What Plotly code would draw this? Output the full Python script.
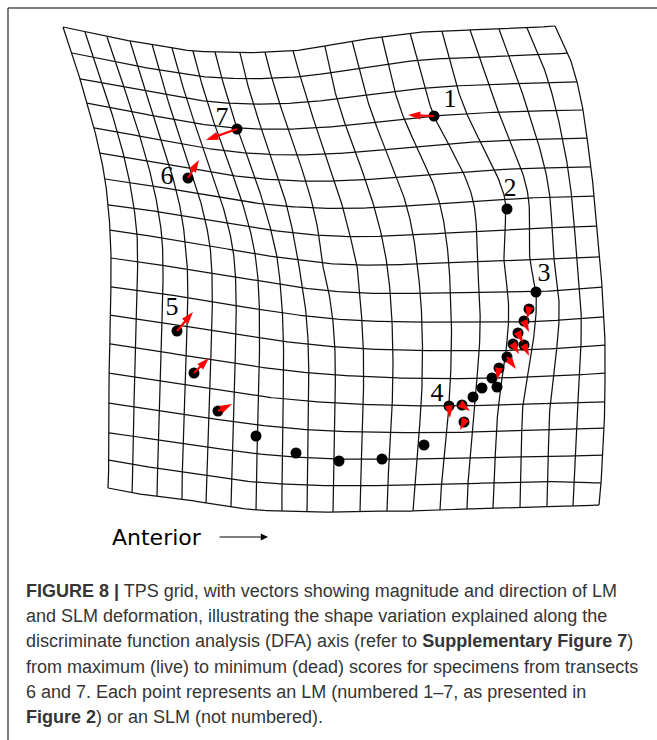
import numpy as np
import plotly.graph_objects as go

# ---------------------------------------------------------------
# Deformation grid: 20 columns x 18 rows, warped by a thin-plate
# spline through control nodes (column, row) -> (x, y)
# ---------------------------------------------------------------
N_COLS = 20
N_ROWS = 18

top_x = [63, 85, 107, 130, 152, 172, 193, 215, 240, 265, 293, 325, 352, 382, 410, 442, 470, 499, 527, 555]
top_y = [27, 32, 37, 41, 44, 48, 51, 52, 53, 52, 51, 46, 41, 37, 33, 31, 30, 29, 28, 26]

bottom_x = [108, 132, 157, 182, 206, 231, 256, 282, 307, 333, 360, 387, 413, 440, 467, 493, 520, 547, 573, 599]
bottom_y = [488, 493, 496, 499, 503, 507, 510, 511, 512, 512, 512, 511, 511, 510, 509, 508, 507, 506, 506, 505]

mid_x = [110, 137, 162, 185, 210, 233, 255, 277, 298, 322, 357, 387, 417, 449, 477, 504, 530, 554, 577, 600]
mid_y = [230, 234, 238, 242, 246, 250, 254, 257, 260, 263, 265, 265, 264, 263, 262, 261, 260, 259, 258, 257]
MID_ROW = 8

left_x = [63, 72, 80, 87, 94, 100, 105, 108, 110, 111, 111, 110, 110, 109, 109, 109, 109, 108]
left_y = [27, 53, 79, 103, 128, 153, 179, 205, 230, 258, 287, 315, 344, 373, 403, 433, 460, 488]

right_x = [555, 568, 577, 583, 587, 591, 594, 597, 600, 602, 604, 605, 605, 605, 604, 603, 601, 599]
right_y = [26, 53, 82, 110, 138, 167, 196, 226, 257, 287, 317, 345, 373, 402, 428, 455, 483, 505]

# interior nodes: (column, row, x, y)
inner_nodes = [
    (7, 3, 237, 128),
    (14, 3, 434, 116),
    (15, 6, 505, 199),
    (16, 9, 536, 292),
    (13, 13, 449, 406),
    (9, 13, 335, 403),
    (16, 13, 523, 404),
    (9, 15, 334, 459),
]

# landmarks (LM, numbered) and semilandmarks (SLM)
lm_label = ["1", "2", "3", "4", "5", "6", "7"]
lm_x = [434, 507, 536, 449, 177, 188, 237]
lm_y = [116, 209, 292, 406, 331, 178, 129]
lm_text_x = [450, 510, 544, 437, 172, 167, 222]
lm_text_y = [100, 189, 274, 394, 308, 177, 118]

slm_x = [194, 218, 256, 296, 339, 382, 424, 462, 464, 473, 482, 492, 497, 499, 507, 513, 518, 524, 524, 529]
slm_y = [373, 411, 436, 453, 461, 459, 445, 405, 422, 397, 388, 378, 387, 368, 357, 344, 333, 345, 321, 309]

# deformation vectors: start point -> end point
vec_x0 = [434, 237, 188, 177, 194, 218, 449, 462, 464, 529, 524, 518, 513, 524, 507, 499]
vec_y0 = [116, 129, 178, 331, 373, 411, 406, 405, 422, 309, 321, 333, 344, 345, 357, 368]
vec_x1 = [408, 206, 199, 193, 209, 232, 450, 470, 460, 527, 529, 523, 519, 529, 516, 497]
vec_y1 = [115, 140, 160, 312, 358, 404, 418, 411, 430, 319, 332, 343, 354, 356, 369, 380]

caption_lines = [
    "<b>FIGURE 8 |</b> TPS grid, with vectors showing magnitude and direction of LM",
    "and SLM deformation, illustrating the shape variation explained along the",
    "discriminate function analysis (DFA) axis (refer to <b>Supplementary Figure 7</b>)",
    "from maximum (live) to minimum (dead) scores for specimens from transects",
    "6 and 7. Each point represents an LM (numbered 1\u20137, as presented in",
    "<b>Figure 2</b>) or an SLM (not numbered).",
]


# ---------------------------------------------------------------
# thin-plate spline
# ---------------------------------------------------------------
def collect_nodes():
    nodes = {}
    for c in range(N_COLS):
        nodes[(c, 0)] = (top_x[c], top_y[c])
        nodes[(c, N_ROWS - 1)] = (bottom_x[c], bottom_y[c])
        nodes[(c, MID_ROW)] = (mid_x[c], mid_y[c])
    for r in range(N_ROWS):
        nodes[(0, r)] = (left_x[r], left_y[r])
        nodes[(N_COLS - 1, r)] = (right_x[r], right_y[r])
    for c, r, x, y in inner_nodes:
        nodes[(c, r)] = (x, y)
    keys = list(nodes.keys())
    src = np.array(keys, dtype=float)
    dst = np.array([nodes[k] for k in keys], dtype=float)
    return src, dst


def kernel(d):
    with np.errstate(divide="ignore", invalid="ignore"):
        k = d * d * np.log(d)
    k[~np.isfinite(k)] = 0.0
    return k


def tps_fit(src, dst, smooth=0.05):
    n = len(src)
    d = np.linalg.norm(src[:, None, :] - src[None, :, :], axis=-1)
    K = kernel(d) + smooth * np.eye(n)
    P = np.hstack([np.ones((n, 1)), src])
    L = np.zeros((n + 3, n + 3))
    L[:n, :n] = K
    L[:n, n:] = P
    L[n:, :n] = P.T
    rhs = np.zeros((n + 3, 2))
    rhs[:n] = dst
    return np.linalg.solve(L, rhs)


def tps_eval(coef, src, pts):
    d = np.linalg.norm(pts[:, None, :] - src[None, :, :], axis=-1)
    K = kernel(d)
    P = np.hstack([np.ones((len(pts), 1)), pts])
    return K @ coef[: len(src)] + P @ coef[len(src):]


src, dst = collect_nodes()
coef = tps_fit(src, dst)

gx, gy = [], []
steps = 12
for r in range(N_ROWS):
    cs = np.linspace(0, N_COLS - 1, (N_COLS - 1) * steps + 1)
    pts = np.column_stack([cs, np.full_like(cs, r)])
    w = tps_eval(coef, src, pts)
    gx += list(w[:, 0]) + [None]
    gy += list(w[:, 1]) + [None]
for c in range(N_COLS):
    rs = np.linspace(0, N_ROWS - 1, (N_ROWS - 1) * steps + 1)
    pts = np.column_stack([np.full_like(rs, c), rs])
    w = tps_eval(coef, src, pts)
    gx += list(w[:, 0]) + [None]
    gy += list(w[:, 1]) + [None]

# arrow shafts (stop a little short of the tip) and head orientation
HEAD = 13
shaft_x, shaft_y, head_angle = [], [], []
for x0, y0, x1, y1 in zip(vec_x0, vec_y0, vec_x1, vec_y1):
    dx, dy = x1 - x0, y1 - y0
    length = float(np.hypot(dx, dy))
    ux, uy = dx / length, dy / length
    cut = min(length, 0.6 * HEAD)
    shaft_x += [x0, x1 - ux * cut, None]
    shaft_y += [y0, y1 - uy * cut, None]
    # y runs downward on screen, so this is a clockwise angle from "up"
    head_angle.append(float(np.degrees(np.arctan2(dx, -dy))))

fig = go.Figure()

fig.add_trace(go.Scatter(
    x=gx, y=gy, mode="lines",
    line=dict(color="#111111", width=1.25),
    hoverinfo="skip", showlegend=False,
))

fig.add_trace(go.Scatter(
    x=slm_x + lm_x, y=slm_y + lm_y, mode="markers",
    marker=dict(color="black", size=11),
    hoverinfo="skip", showlegend=False,
))

fig.add_trace(go.Scatter(
    x=shaft_x, y=shaft_y, mode="lines",
    line=dict(color="#ff0000", width=2.2),
    hoverinfo="skip", showlegend=False,
))

fig.add_trace(go.Scatter(
    x=vec_x1, y=vec_y1, mode="markers",
    marker=dict(symbol="arrow", size=HEAD, color="#ff0000",
                angle=head_angle, line=dict(width=0)),
    hoverinfo="skip", showlegend=False,
))

fig.add_trace(go.Scatter(
    x=lm_text_x, y=lm_text_y, mode="text", text=lm_label,
    textfont=dict(family="Liberation Serif, Times New Roman, serif", size=26, color="black"),
    hoverinfo="skip", showlegend=False,
))

annotations = []

# direction label
annotations.append(dict(
    x=110, y=537, xref="x", yref="y", xanchor="left", yanchor="middle",
    text="Anterior", showarrow=False,
    font=dict(family="DejaVu Sans, sans-serif", size=22, color="black"),
))
annotations.append(dict(
    x=268, y=537, ax=218, ay=537,
    xref="x", yref="y", axref="x", ayref="y",
    text="", showarrow=True,
    arrowhead=2, arrowsize=1.2, arrowwidth=1.2, arrowcolor="black",
))

cap_y0 = 591
for i, line in enumerate(caption_lines):
    annotations.append(dict(
        x=24, y=cap_y0 + i * 25.2, xref="x", yref="y",
        xanchor="left", yanchor="middle",
        text=line, showarrow=False,
        font=dict(family="Liberation Sans, Arial, sans-serif", size=18, color="#353535"),
    ))

shapes = [
    dict(type="line", x0=8, y0=8, x1=657, y1=8, xref="x", yref="y",
         line=dict(color="#555555", width=1.5)),
    dict(type="line", x0=8, y0=8, x1=8, y1=740, xref="x", yref="y",
         line=dict(color="#555555", width=1.5)),
]

fig.update_layout(
    width=657, height=740,
    margin=dict(l=0, r=0, t=0, b=0),
    paper_bgcolor="white", plot_bgcolor="white",
    xaxis=dict(range=[0, 657], visible=False, fixedrange=True),
    yaxis=dict(range=[740, 0], visible=False, fixedrange=True),
    annotations=annotations, shapes=shapes,
    showlegend=False,
)

fig.write_html("out.html")
